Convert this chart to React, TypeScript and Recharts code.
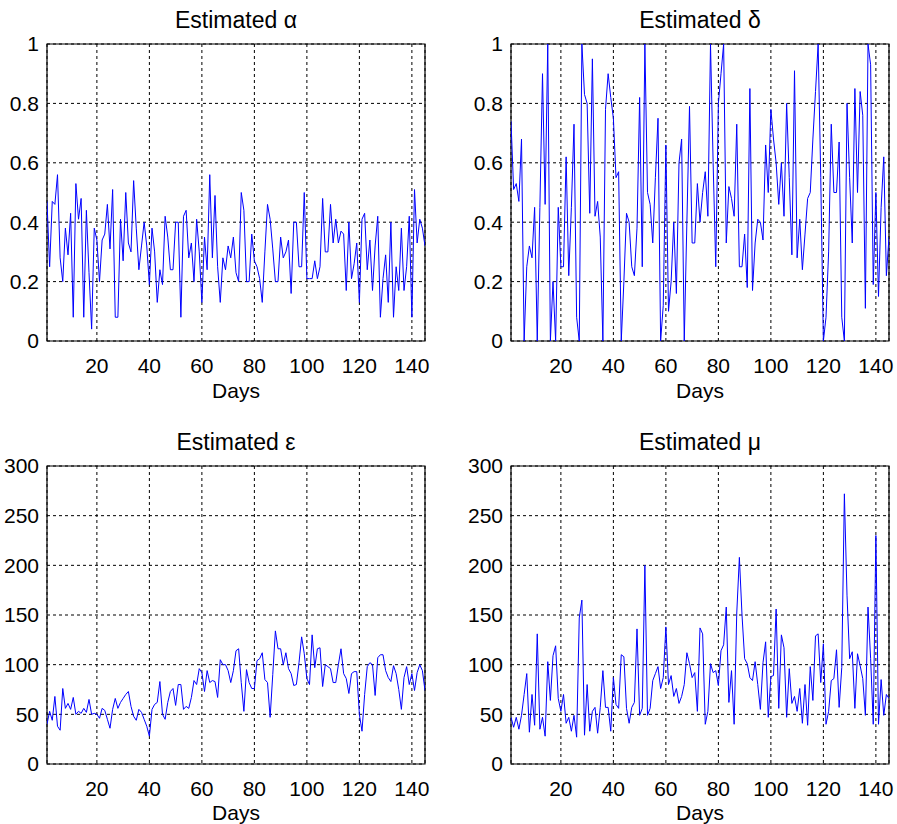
import React from 'react';
import { LineChart, Line, XAxis, YAxis, CartesianGrid, ReferenceArea } from 'recharts';

// daily estimates, day 1..145
const alpha = [
  0.47, 0.25, 0.47, 0.46, 0.56, 0.28, 0.2, 0.38, 0.29, 0.43,
  0.08, 0.53, 0.41, 0.48, 0.08, 0.44, 0.23, 0.04, 0.38, 0.34,
  0.2, 0.34, 0.36, 0.46, 0.31, 0.51, 0.08, 0.08, 0.41, 0.27,
  0.5, 0.33, 0.3, 0.54, 0.38, 0.24, 0.32, 0.4, 0.32, 0.19,
  0.38, 0.3, 0.13, 0.24, 0.19, 0.42, 0.35, 0.24, 0.24, 0.4,
  0.4, 0.08, 0.42, 0.44, 0.28, 0.33, 0.2, 0.41, 0.3, 0.13,
  0.35, 0.24, 0.56, 0.28, 0.49, 0.25, 0.13, 0.28, 0.24, 0.32,
  0.28, 0.35, 0.23, 0.2, 0.5, 0.44, 0.2, 0.2, 0.36, 0.27,
  0.25, 0.21, 0.13, 0.3, 0.46, 0.41, 0.31, 0.2, 0.2, 0.35,
  0.28, 0.3, 0.34, 0.16, 0.4, 0.4, 0.25, 0.25, 0.5, 0.21,
  0.21, 0.21, 0.27, 0.21, 0.25, 0.48, 0.3, 0.3, 0.46, 0.33,
  0.41, 0.33, 0.37, 0.36, 0.17, 0.4, 0.21, 0.26, 0.33, 0.13,
  0.41, 0.43, 0.24, 0.34, 0.17, 0.32, 0.42, 0.08, 0.21, 0.29,
  0.13, 0.4, 0.08, 0.25, 0.17, 0.38, 0.17, 0.25, 0.42, 0.08,
  0.51, 0.33, 0.41, 0.38, 0.32,
];

const delta = [
  0.74, 0.51, 0.53, 0.47, 0.68, 0.0, 0.25, 0.32, 0.28, 0.45,
  0.0, 0.45, 0.9, 0.46, 1.0, 0.0, 0.2, 0.0, 0.45, 0.25,
  0.25, 0.62, 0.22, 0.45, 0.73, 0.08, 0.0, 1.0, 0.83, 0.8,
  0.43, 0.95, 0.42, 0.47, 0.35, 0.0, 0.78, 0.9, 0.82, 0.75,
  0.55, 0.57, 0.0, 0.2, 0.43, 0.4, 0.25, 0.22, 0.38, 0.82,
  0.25, 1.0, 0.5, 0.46, 0.33, 0.55, 0.75, 0.0, 0.12, 0.66,
  0.1, 0.2, 0.4, 0.16, 0.6, 0.68, 0.0, 0.4, 0.79, 0.33,
  0.33, 0.53, 0.4, 0.5, 0.57, 0.42, 1.0, 0.6, 0.25, 0.8,
  0.9, 1.0, 0.33, 0.52, 0.48, 0.42, 0.73, 0.25, 0.25, 0.36,
  0.18, 0.85, 0.17, 0.33, 0.41, 0.4, 0.34, 0.66, 0.5, 0.78,
  0.68, 0.6, 0.46, 0.6, 0.42, 0.8, 0.55, 0.29, 0.91, 0.28,
  0.41, 0.24, 0.36, 0.48, 0.5, 0.68, 0.84, 1.0, 0.55, 0.0,
  0.08, 0.3, 0.73, 0.5, 0.5, 0.67, 0.08, 0.0, 0.8, 0.55,
  0.33, 0.85, 0.5, 0.84, 0.76, 0.11, 1.0, 0.93, 0.19, 0.5,
  0.15, 0.45, 0.62, 0.22, 0.35,
];

const epsilon = [
  40, 53, 44, 68, 38, 34, 76, 56, 61, 55,
  67, 50, 53, 51, 56, 52, 65, 50, 51, 50,
  46, 56, 54, 45, 36, 55, 66, 56, 62, 66,
  70, 73, 58, 48, 44, 55, 52, 45, 38, 28,
  55, 60, 62, 83, 50, 45, 62, 73, 76, 59,
  80, 80, 55, 58, 56, 67, 84, 80, 96, 92,
  73, 94, 82, 84, 83, 67, 105, 100, 100, 94,
  82, 94, 114, 116, 82, 53, 95, 82, 76, 76,
  104, 106, 112, 85, 82, 47, 90, 134, 116, 116,
  100, 112, 96, 91, 79, 80, 102, 128, 111, 86,
  80, 130, 97, 116, 117, 78, 100, 98, 96, 82,
  82, 100, 116, 91, 86, 71, 91, 93, 93, 50,
  33, 70, 98, 102, 100, 69, 107, 110, 110, 94,
  87, 83, 99, 91, 75, 55, 87, 98, 80, 91,
  74, 92, 100, 94, 74,
];

const mu = [
  47, 37, 47, 35, 49, 70, 91, 32, 70, 39,
  131, 35, 47, 28, 103, 64, 109, 119, 66, 53,
  70, 41, 47, 33, 49, 27, 147, 165, 29, 80,
  33, 53, 57, 31, 57, 94, 57, 57, 33, 87,
  60, 56, 110, 108, 56, 41, 57, 62, 136, 49,
  56, 200, 49, 56, 84, 91, 98, 76, 87, 138,
  80, 89, 68, 76, 61, 68, 80, 112, 101, 87,
  92, 53, 137, 131, 40, 53, 101, 92, 94, 79,
  114, 120, 158, 62, 94, 40, 152, 208, 150, 106,
  101, 87, 84, 103, 80, 55, 102, 123, 47, 88,
  89, 156, 56, 130, 117, 47, 96, 61, 68, 53,
  76, 41, 80, 39, 98, 64, 129, 131, 82, 121,
  40, 53, 84, 86, 115, 57, 97, 272, 170, 106,
  113, 56, 111, 99, 86, 49, 158, 106, 40, 230,
  40, 85, 49, 70, 66,
];

const dayTicks = [20, 40, 60, 80, 100, 120, 140];
const unitTicks = [0, 0.2, 0.4, 0.6, 0.8, 1];
const countTicks = [0, 50, 100, 150, 200, 250, 300];

const FONT = '"Liberation Sans", Arial, Helvetica, sans-serif';
const W = 448;
const H = 420;

interface PanelProps {
  title: string;
  values: number[];
  yTicks: number[];
  left: number;
  top: number;
  plotH: number;
}

function Panel({ title, values, yTicks, left, top, plotH }: PanelProps) {
  const data = values.map((v, i) => ({ day: i + 1, v }));
  const yMax = yTicks[yTicks.length - 1];
  const tickStyle = { fill: '#000', fontSize: 21, fontFamily: FONT };
  return (
    <div style={{ position: 'absolute', left, top, width: W, height: H }}>
      <div
        style={{
          position: 'absolute', left: 47, width: 378, top: 6, lineHeight: '28px',
          textAlign: 'center', fontSize: 23, fontFamily: FONT, color: '#000',
        }}
      >
        {title}
      </div>
      <LineChart width={W} height={H} data={data} margin={{ top: 44, right: 23, bottom: 0, left: 0 }}>
        <CartesianGrid stroke="#000" strokeDasharray="3 3" />
        <XAxis
          dataKey="day"
          type="number"
          domain={[1, 145]}
          ticks={dayTicks}
          allowDataOverflow
          height={H - 44 - plotH}
          axisLine={false}
          tickLine={false}
          tickSize={6}
          tickMargin={11}
          tick={tickStyle}
        />
        <YAxis
          type="number"
          domain={[0, yMax]}
          ticks={yTicks}
          allowDataOverflow
          width={47}
          axisLine={false}
          tickLine={false}
          tick={tickStyle}
        />
        <ReferenceArea x1={1} x2={145} y1={0} y2={yMax} fill="none" stroke="#000" strokeWidth={1.2} />
        <Line
          type="linear"
          dataKey="v"
          stroke="#0000ff"
          strokeWidth={1}
          dot={false}
          isAnimationActive={false}
        />
      </LineChart>
      <div
        style={{
          position: 'absolute', left: 47, width: 378, top: 378, lineHeight: '26px',
          textAlign: 'center', fontSize: 21, fontFamily: FONT, color: '#000',
        }}
      >
        Days
      </div>
    </div>
  );
}

export default function App() {
  return (
    <div style={{ position: 'absolute', left: 0, top: 0, width: 897, height: 824, background: '#fff' }}>
      <Panel title="Estimated α" values={alpha} yTicks={unitTicks} left={0} top={0} plotH={297} />
      <Panel title="Estimated δ" values={delta} yTicks={unitTicks} left={464} top={0} plotH={297} />
      <Panel title="Estimated ε" values={epsilon} yTicks={countTicks} left={0} top={422} plotH={298} />
      <Panel title="Estimated μ" values={mu} yTicks={countTicks} left={464} top={422} plotH={298} />
    </div>
  );
}
